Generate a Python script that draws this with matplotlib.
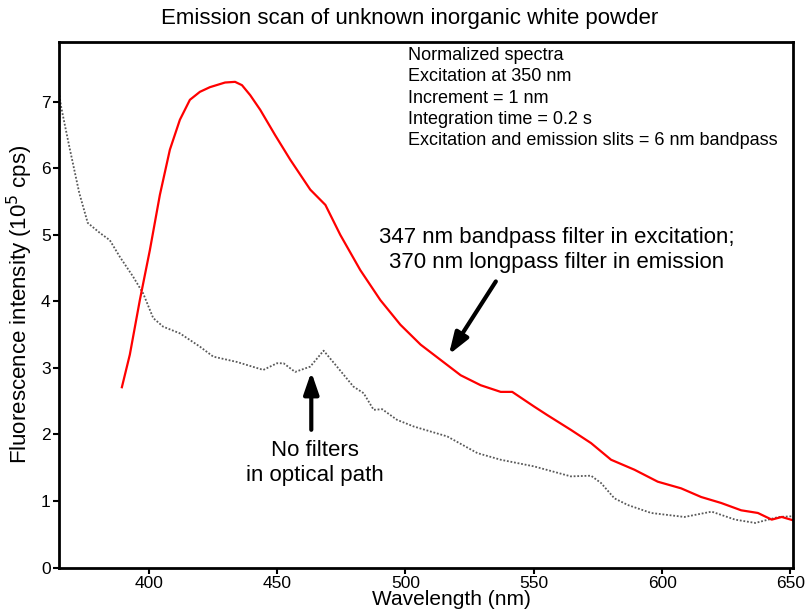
import matplotlib
matplotlib.use("Agg")
import matplotlib.pyplot as plt

plt.rcParams["font.family"] = ["Liberation Sans", "DejaVu Sans"]

# Emission with filters (347 nm bandpass / 370 nm longpass)
filtered_nm = [389.5, 392.6, 396.5, 400.4, 404.3, 408.2, 412.1, 416.0, 419.9, 423.8,
               429.7, 433.6, 436.3, 439.5, 443.4, 449.2, 455.1, 462.9, 468.8, 474.6,
               482.4, 490.2, 498.0, 505.9, 513.7, 521.5, 529.3, 537.1, 541.6, 550.1,
               555.3, 564.4, 572.3, 580.1, 589.2, 598.3, 607.4, 615.2, 623.0, 630.8,
               637.3, 642.7, 646.6, 651.0]
filtered_int = [2.71, 3.20, 4.02, 4.77, 5.60, 6.28, 6.73, 7.03, 7.15, 7.22,
                7.29, 7.30, 7.25, 7.10, 6.88, 6.50, 6.13, 5.68, 5.45, 5.00,
                4.47, 4.02, 3.65, 3.35, 3.12, 2.89, 2.74, 2.64, 2.64, 2.42,
                2.29, 2.07, 1.87, 1.62, 1.47, 1.29, 1.19, 1.06, 0.97, 0.86,
                0.82, 0.72, 0.76, 0.71]

# Emission with no filters in the optical path
nofilter_nm = [365.0, 365.8, 369.0, 372.9, 376.2, 380.9, 384.8, 388.7, 393.9, 397.8,
               401.7, 405.6, 412.1, 416.0, 419.9, 425.1, 434.3, 444.6, 449.9, 452.5,
               457.0, 462.9, 468.1, 473.3, 479.7, 483.7, 487.6, 490.9, 496.7, 503.2,
               516.3, 528.0, 537.1, 550.1, 564.4, 572.3, 576.2, 581.4, 586.6, 595.7,
               608.7, 619.3, 628.4, 636.3, 645.4, 650.5]
nofilter_int = [7.15, 6.93, 6.33, 5.63, 5.18, 5.03, 4.92, 4.67, 4.37, 4.12,
                3.75, 3.62, 3.52, 3.42, 3.32, 3.17, 3.09, 2.97, 3.07, 3.07,
                2.94, 3.02, 3.26, 3.02, 2.72, 2.62, 2.37, 2.38, 2.22, 2.12,
                1.97, 1.72, 1.62, 1.52, 1.37, 1.38, 1.27, 1.04, 0.94, 0.82,
                0.76, 0.84, 0.72, 0.67, 0.76, 0.77]

x_ticks = [400, 450, 500, 550, 600, 650]
y_ticks = [0, 1, 2, 3, 4, 5, 6, 7]

conditions = [
    "Normalized spectra",
    "Excitation at 350 nm",
    "Increment = 1 nm",
    "Integration time = 0.2 s",
    "Excitation and emission slits = 6 nm bandpass",
]

fig = plt.figure(figsize=(8.07, 6.14), dpi=100)
ax = fig.add_axes([0.0731, 0.0757, 0.9096, 0.856])

ax.plot(nofilter_nm, nofilter_int, color="0.35", lw=1.3, linestyle=(0, (1, 1)))
ax.plot(filtered_nm, filtered_int, color="red", lw=1.6)

ax.set_xlim(365, 651)
ax.set_ylim(0, 7.9)
ax.set_xticks(x_ticks)
ax.set_yticks(y_ticks)
ax.tick_params(direction="out", length=4, width=1.5, labelsize=12.5, pad=2)

for side in ["left", "right", "top", "bottom"]:
    ax.spines[side].set_linewidth(2)

ax.set_xlabel("Wavelength (nm)", fontsize=15, labelpad=0)
ax.xaxis.set_label_coords(0.534, -0.043)
ax.set_ylabel("Fluorescence intensity (10$^5$ cps)", fontsize=16, labelpad=4)
fig.text(0.508, 0.97, "Emission scan of unknown inorganic white powder",
         ha="center", va="center", fontsize=16)

ax.text(0.4755, 0.99, "\n".join(conditions), transform=ax.transAxes,
        ha="left", va="top", fontsize=13, linespacing=1.33)

arrow = dict(arrowstyle="-|>,head_length=1.3,head_width=0.45",
             color="black", lw=3, shrinkA=0, shrinkB=0)

ax.text(559, 4.77, "347 nm bandpass filter in excitation;\n370 nm longpass filter in emission",
        ha="center", va="center", fontsize=16, linespacing=1.25)
ax.annotate("", xy=(516.9, 3.20), xytext=(535.2, 4.30), arrowprops=arrow)

ax.text(464.8, 1.57, "No filters\nin optical path",
        ha="center", va="center", fontsize=16, linespacing=1.2)
ax.annotate("", xy=(463.3, 2.94), xytext=(463.3, 2.07), arrowprops=arrow)

fig.savefig("out.png", dpi=100)
